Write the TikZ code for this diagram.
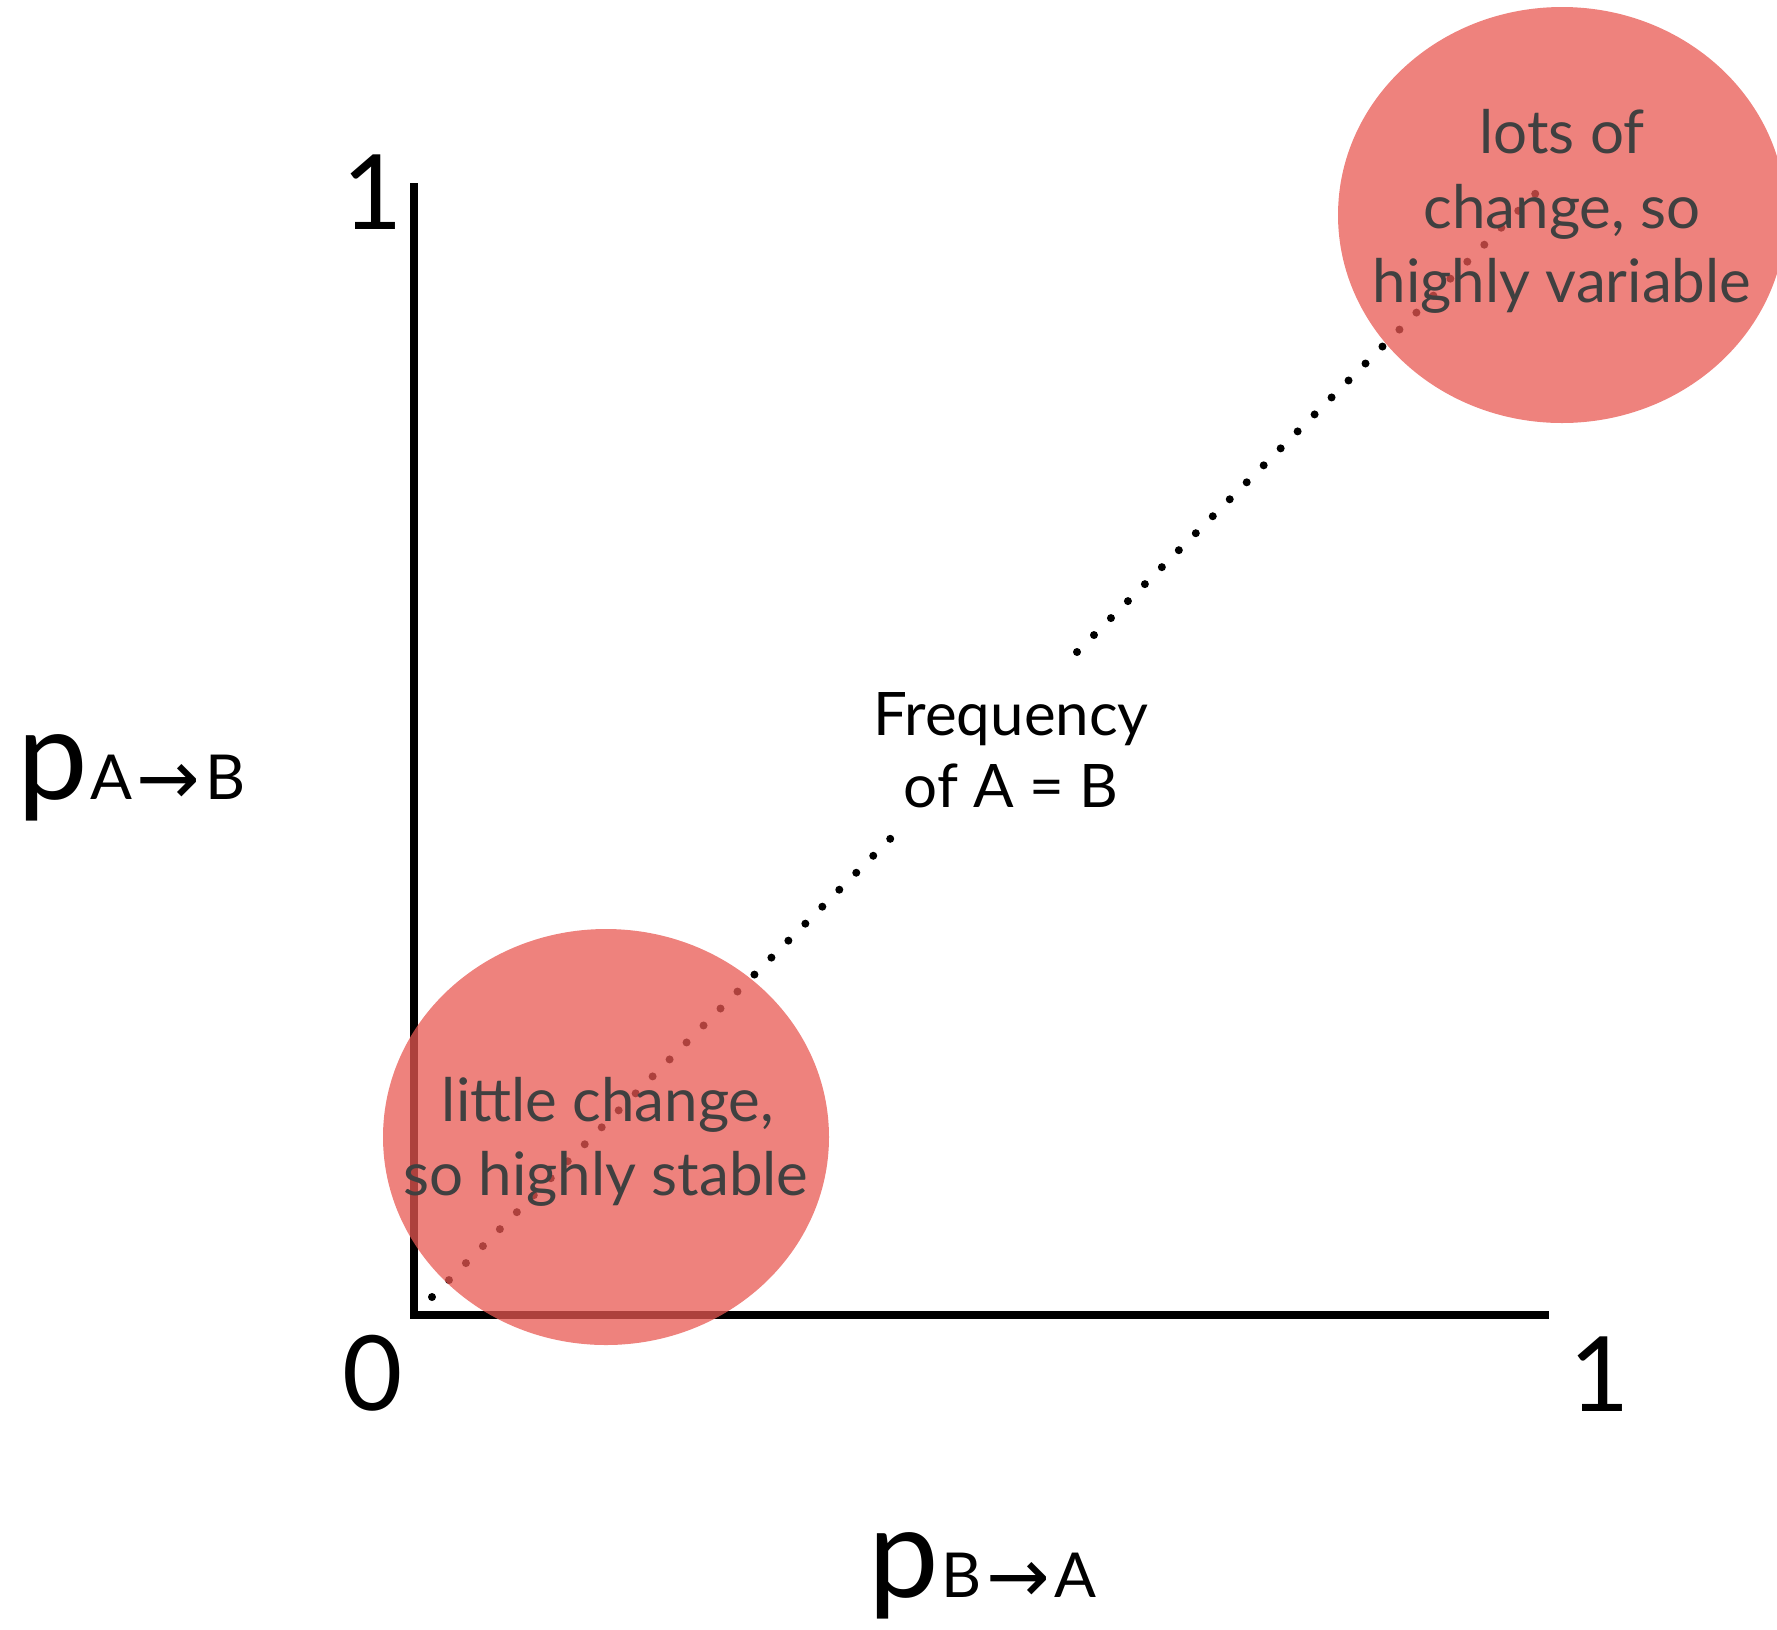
\documentclass[tikz,border=0pt]{standalone}
\usepackage{fontspec}
\setmainfont{Lato}
\newfontfamily\djv{DejaVu Sans}
\definecolor{blobred}{RGB}{232,88,82}
\definecolor{blobtext}{RGB}{64,64,64}
\newcommand{\subarrow}{\raisebox{-2.5pt}{\fontsize{38}{38}\djv→}}
\begin{document}
\begin{tikzpicture}[x=0.5pt,y=-0.5pt,
  axisline/.style={line width=4pt,line cap=butt},
  dotline/.style={line width=4pt,line cap=round,dash pattern=on 0pt off 12.0pt},
  blob/.style={fill=blobred,fill opacity=0.75},
  blobtxt/.style={anchor=base,text=blobtext,font=\fontsize{30}{36}\selectfont,inner sep=0pt},
  freqtxt/.style={anchor=base,font=\fontsize{30}{36}\selectfont,inner sep=0pt},
  ticktxt/.style={anchor=center,font=\fontsize{52}{52}\selectfont,inner sep=0pt},
  plabel/.style={anchor=base west,inner sep=0pt}]
\useasboundingbox (0,0) rectangle (1777,1629);
% axes
\coordinate (ytop) at (413.5,183);
\coordinate (origin) at (413.5,1315);
\coordinate (xend) at (1549,1315);
\draw[axisline] (ytop) -- (origin) -- (xend);
% dotted diagonal
\coordinate (d0) at (432,1297);
\coordinate (d1) at (891,838);
\coordinate (d2) at (1077,652);
\coordinate (d3) at (1536,193);
\draw[dotline] (d0) -- (d1);
\draw[dotline] (d2) -- (d3);
% circles
\path[blob] (606,1137) ellipse [x radius=223,y radius=208];
\begin{scope}
\clip (0,0) rectangle (1777,1629);
\path[blob] (1562,215) ellipse [x radius=224,y radius=208];
\end{scope}
% circle texts
\node[blobtxt] (t1) at (1562,153) {lots of};
\node[blobtxt] (t2) at (1562,228) {change, so};
\node[blobtxt] (t3) at (1562,302) {highly variable};
\node[blobtxt] (b1) at (608,1121) {little change,};
\node[blobtxt] (b2) at (606,1195) {so highly stable};
% label
\node[freqtxt] (f1) at (1011,735) {Frequency};
\node[freqtxt] (f2) at (1011,807) {of A = B};
% tick labels
\node[ticktxt] (one_y) at (373,192) {1};
\node[ticktxt] (zero) at (373,1373) {0};
\node[ticktxt] (one_x) at (1600,1374) {1};
% axis names
\node[plabel] (pab) at (17,799) {{\fontsize{63}{63}\selectfont p}{\fontsize{31}{31}\selectfont\kern1pt A\kern2.5pt\subarrow\kern2.5pt B}};
\node[plabel] (pba) at (868,1597) {{\fontsize{63}{63}\selectfont p}{\fontsize{31}{31}\selectfont\kern1pt B\kern2.5pt\subarrow\kern2.5pt A}};
\end{tikzpicture}
\end{document}
